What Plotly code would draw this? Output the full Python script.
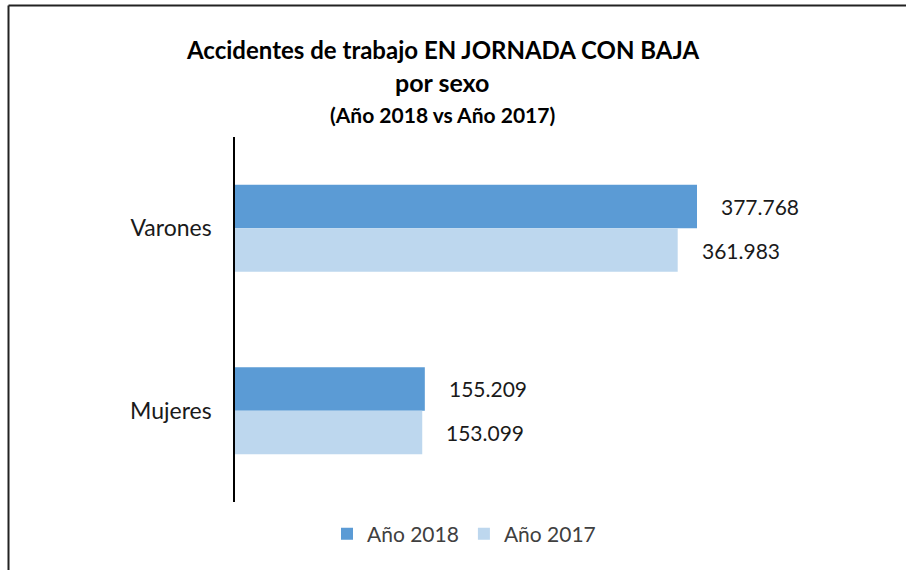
import plotly.graph_objects as go

categories = ["Varones", "Mujeres"]
values_2018 = [377768, 155209]
values_2017 = [361983, 153099]
series_names = ["Año 2018", "Año 2017"]
title_lines = ["Accidentes de trabajo EN JORNADA CON BAJA", "por sexo", "(Año 2018 vs Año 2017)"]

W, H = 906, 570
L, R, T, B = 235, 46, 137, 68
PW, PH = W - L - R, H - T - B
SCALE = 462 / 377768  # px per unit
XMAX = PW / SCALE
BARGAP = 0.523

def px(x):
    return (x - L) / PW

def py(y):
    return (H - B - y) / PH

def fmt(v):
    return f"{v:,}".replace(",", ".")

FONT = "Lato, 'Open Sans', sans-serif"

fig = go.Figure()
fig.add_trace(go.Bar(y=categories, x=values_2018, name=series_names[0], orientation="h",
                     marker=dict(color="#5B9BD5", line=dict(width=0)), hoverinfo="skip"))
fig.add_trace(go.Bar(y=categories, x=values_2017, name=series_names[1], orientation="h",
                     marker=dict(color="#BDD7EE", line=dict(width=0)), hoverinfo="skip"))

annotations = []
bar_h = (PH / len(categories)) * (1 - BARGAP) / 2
for vals, sign in ((values_2018, 1), (values_2017, -1)):
    for cat, v in zip(categories, vals):
        annotations.append(dict(x=v, y=cat, xref="x", yref="y", text=fmt(v), showarrow=False,
                                xanchor="left", yanchor="middle", xshift=22, yshift=sign * bar_h / 2,
                                font=dict(family=FONT, size=21, color="#1a1a1a")))

title_y = [49, 82, 114.5]
title_size = [24, 25, 21]
for txt, yy, sz in zip(title_lines, title_y, title_size):
    annotations.append(dict(x=px(442), y=py(yy), xref="paper", yref="paper", text=f"<b>{txt}</b>",
                            showarrow=False, xanchor="center", yanchor="middle",
                            font=dict(family=FONT, size=sz, color="#000000")))

shapes = [
    dict(type="line", xref="paper", yref="paper", x0=px(8.5), x1=px(W + 10), y0=py(5.5), y1=py(5.5),
         line=dict(color="#222222", width=2)),
    dict(type="line", xref="paper", yref="paper", x0=px(8.5), x1=px(8.5), y0=py(5.5), y1=py(H + 10),
         line=dict(color="#222222", width=2)),
]

fig.update_layout(
    width=W, height=H,
    margin=dict(l=L, r=R, t=T, b=B, pad=0),
    paper_bgcolor="white", plot_bgcolor="white",
    barmode="group", bargap=BARGAP, bargroupgap=0,
    font=dict(family=FONT, size=21, color="#1a1a1a"),
    xaxis=dict(range=[0, XMAX], visible=False, fixedrange=True),
    yaxis=dict(autorange="reversed", showline=True, linecolor="#000000", linewidth=1.5,
               ticks="", showgrid=False, zeroline=False, ticklabelstandoff=17, fixedrange=True,
               tickfont=dict(family=FONT, size=23, color="#1a1a1a")),
    showlegend=True,
    legend=dict(orientation="h", x=px(464), xanchor="center", y=py(534), yanchor="middle",
                font=dict(family=FONT, size=21, color="#404040"), bgcolor="rgba(0,0,0,0)"),
    annotations=annotations,
    shapes=shapes,
)

fig.write_html("out.html", config={"displayModeBar": False},
               post_script="document.body.style.margin='0';")
